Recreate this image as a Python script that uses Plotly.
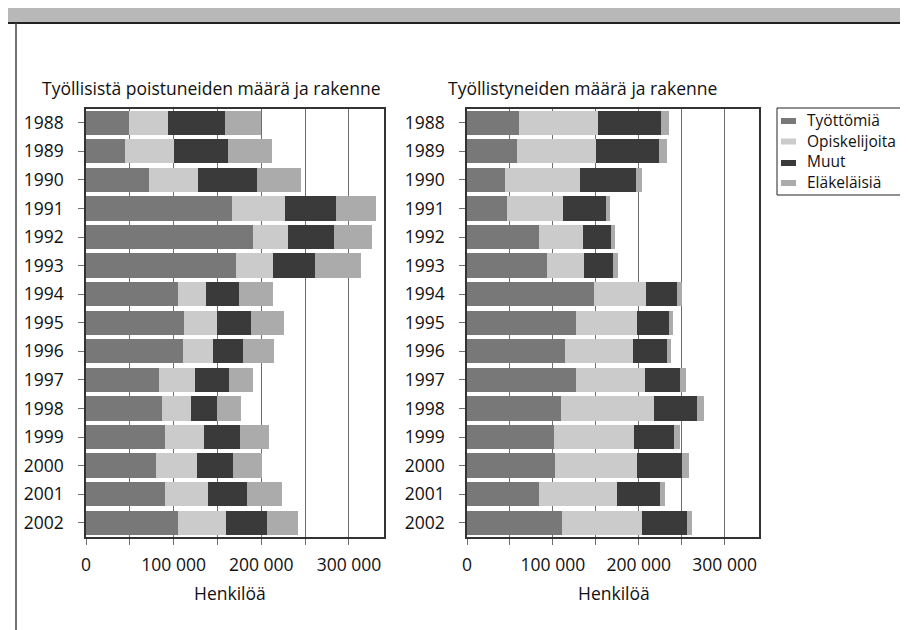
import plotly.graph_objects as go

W, H = 908, 630

years = [str(y) for y in range(1988, 2003)]
series_names = ["Työttömiä", "Opiskelijoita", "Muut", "Eläkeläisiä"]
colors = ["#787878", "#cbcbcb", "#3a3a3a", "#ababab"]

# Työllisistä poistuneet (left chart)
tyottomia_p = [49000, 45000, 72000, 167000, 190000, 171000, 105000, 112000, 111000, 83000, 87000, 90000, 80000, 90000, 105000]
opiskelijoita_p = [45000, 55000, 56000, 60000, 41000, 42000, 32000, 37000, 34000, 41000, 33000, 45000, 47000, 49000, 55000]
muut_p = [65000, 62000, 67000, 58000, 52000, 48000, 37000, 39000, 34000, 39000, 30000, 41000, 41000, 45000, 46000]
elakelaisia_p = [41000, 50000, 50000, 46000, 43000, 53000, 39000, 38000, 36000, 27000, 27000, 33000, 33000, 40000, 36000]

# Työllistyneet (right chart)
tyottomia_t = [60000, 58000, 44000, 46000, 84000, 93000, 148000, 127000, 114000, 127000, 110000, 101000, 103000, 84000, 111000]
opiskelijoita_t = [93000, 92000, 87000, 66000, 51000, 43000, 61000, 71000, 79000, 80000, 108000, 94000, 95000, 91000, 93000]
muut_t = [73000, 74000, 66000, 50000, 33000, 34000, 36000, 37000, 40000, 41000, 50000, 46000, 52000, 50000, 52000]
elakelaisia_t = [9000, 8500, 7000, 5000, 4000, 6000, 5000, 5000, 5000, 6500, 8500, 7000, 8000, 5000, 6000]

tick_vals = [0, 50000, 100000, 150000, 200000, 250000, 300000]
tick_text = ["0", "", "100 000", "", "200 000", "", "300 000"]

left_title = "Työllisistä poistuneiden määrä ja rakenne"
right_title = "Työllistyneiden määrä ja rakenne"
x_title = "Henkilöä"

FONT = "Open Sans"
FS = 17.5
LFS = 15.5
TXT = "#111111"

def px(x):
    return x / W

def py(y):
    return 1 - y / H

fig = go.Figure()

left_data = [tyottomia_p, opiskelijoita_p, muut_p, elakelaisia_p]
right_data = [tyottomia_t, opiskelijoita_t, muut_t, elakelaisia_t]

for name, col, vals in zip(series_names, colors, left_data):
    fig.add_trace(go.Bar(x=vals, y=years, orientation="h", name=name,
                         marker=dict(color=col, line=dict(width=0)),
                         xaxis="x", yaxis="y", showlegend=False))
for name, col, vals in zip(series_names, colors, right_data):
    fig.add_trace(go.Bar(x=vals, y=years, orientation="h", name=name,
                         marker=dict(color=col, line=dict(width=0)),
                         xaxis="x2", yaxis="y2", showlegend=False))

ydom = [py(529), py(100.5)]
xaxis_common = dict(range=[0, 340000], tickvals=tick_vals, ticktext=tick_text,
                    showgrid=True, gridcolor="#6e6e6e", gridwidth=1,
                    ticks="outside", ticklen=6, tickcolor="#6e6e6e",
                    showline=True, linecolor="#333333", linewidth=1.5, mirror=True,
                    tickfont=dict(family=FONT, size=FS, color=TXT),
                    zeroline=False, fixedrange=True, automargin=False,
                    ticklabelstandoff=5)
yaxis_common = dict(autorange="reversed", type="category",
                    ticks="outside", ticklen=6, tickcolor="#6e6e6e",
                    showline=True, linecolor="#333333", linewidth=1.5, mirror=True,
                    tickfont=dict(family=FONT, size=FS, color=TXT),
                    showgrid=False, automargin=False, ticklabelstandoff=11)

fig.update_layout(
    width=W, height=H,
    margin=dict(l=0, r=0, t=0, b=0),
    paper_bgcolor="white", plot_bgcolor="white",
    barmode="stack", bargap=0.15,
    font=dict(family=FONT, size=FS, color=TXT),
    xaxis=dict(domain=[px(78), px(376)], anchor="y", **xaxis_common),
    yaxis=dict(domain=ydom, anchor="x", **yaxis_common),
    xaxis2=dict(domain=[px(459), px(751)], anchor="y2", **xaxis_common),
    yaxis2=dict(domain=ydom, anchor="x2", **yaxis_common),
    showlegend=False,
)

annotations = [
    dict(text=left_title, x=px(32), y=py(80), xref="paper", yref="paper",
         xanchor="left", yanchor="middle", showarrow=False,
         font=dict(family=FONT, size=FS, color=TXT)),
    dict(text=right_title, x=px(438), y=py(80), xref="paper", yref="paper",
         xanchor="left", yanchor="middle", showarrow=False,
         font=dict(family=FONT, size=FS, color=TXT)),
    dict(text=x_title, x=px(222), y=py(585), xref="paper", yref="paper",
         xanchor="center", yanchor="middle", showarrow=False,
         font=dict(family=FONT, size=FS, color=TXT)),
    dict(text=x_title, x=px(606), y=py(585), xref="paper", yref="paper",
         xanchor="center", yanchor="middle", showarrow=False,
         font=dict(family=FONT, size=FS, color=TXT)),
]

shapes = [
    dict(type="rect", xref="paper", yref="paper", x0=0, x1=1, y0=py(14), y1=1,
         fillcolor="#b8b8b8", line=dict(width=0), layer="below"),
    dict(type="line", xref="paper", yref="paper", x0=0, x1=1, y0=py(15), y1=py(15),
         line=dict(color="#222222", width=2)),
    dict(type="line", xref="paper", yref="paper", x0=px(8), x1=px(8), y0=py(15), y1=0,
         line=dict(color="#444444", width=1.5)),
    # legend box
    dict(type="rect", xref="paper", yref="paper", x0=px(769), x1=px(906.5),
         y0=py(187), y1=py(100), line=dict(color="#222222", width=1),
         fillcolor="white", layer="above"),
]

legend_text_y = [112, 132.5, 153, 173.5]
legend_swatch_y = [113, 133.5, 155, 175]
for name, col, ty, sy in zip(series_names, colors, legend_text_y, legend_swatch_y):
    shapes.append(dict(type="rect", xref="paper", yref="paper",
                       x0=px(773), x1=px(788), y0=py(sy + 3), y1=py(sy - 3),
                       fillcolor=col, line=dict(width=0), layer="above"))
    annotations.append(dict(text=name, x=px(797), y=py(ty), xref="paper", yref="paper",
                            xanchor="left", yanchor="middle", showarrow=False,
                            font=dict(family=FONT, size=LFS, color=TXT)))

fig.update_layout(annotations=annotations, shapes=shapes)

fig.write_html("out.html")
